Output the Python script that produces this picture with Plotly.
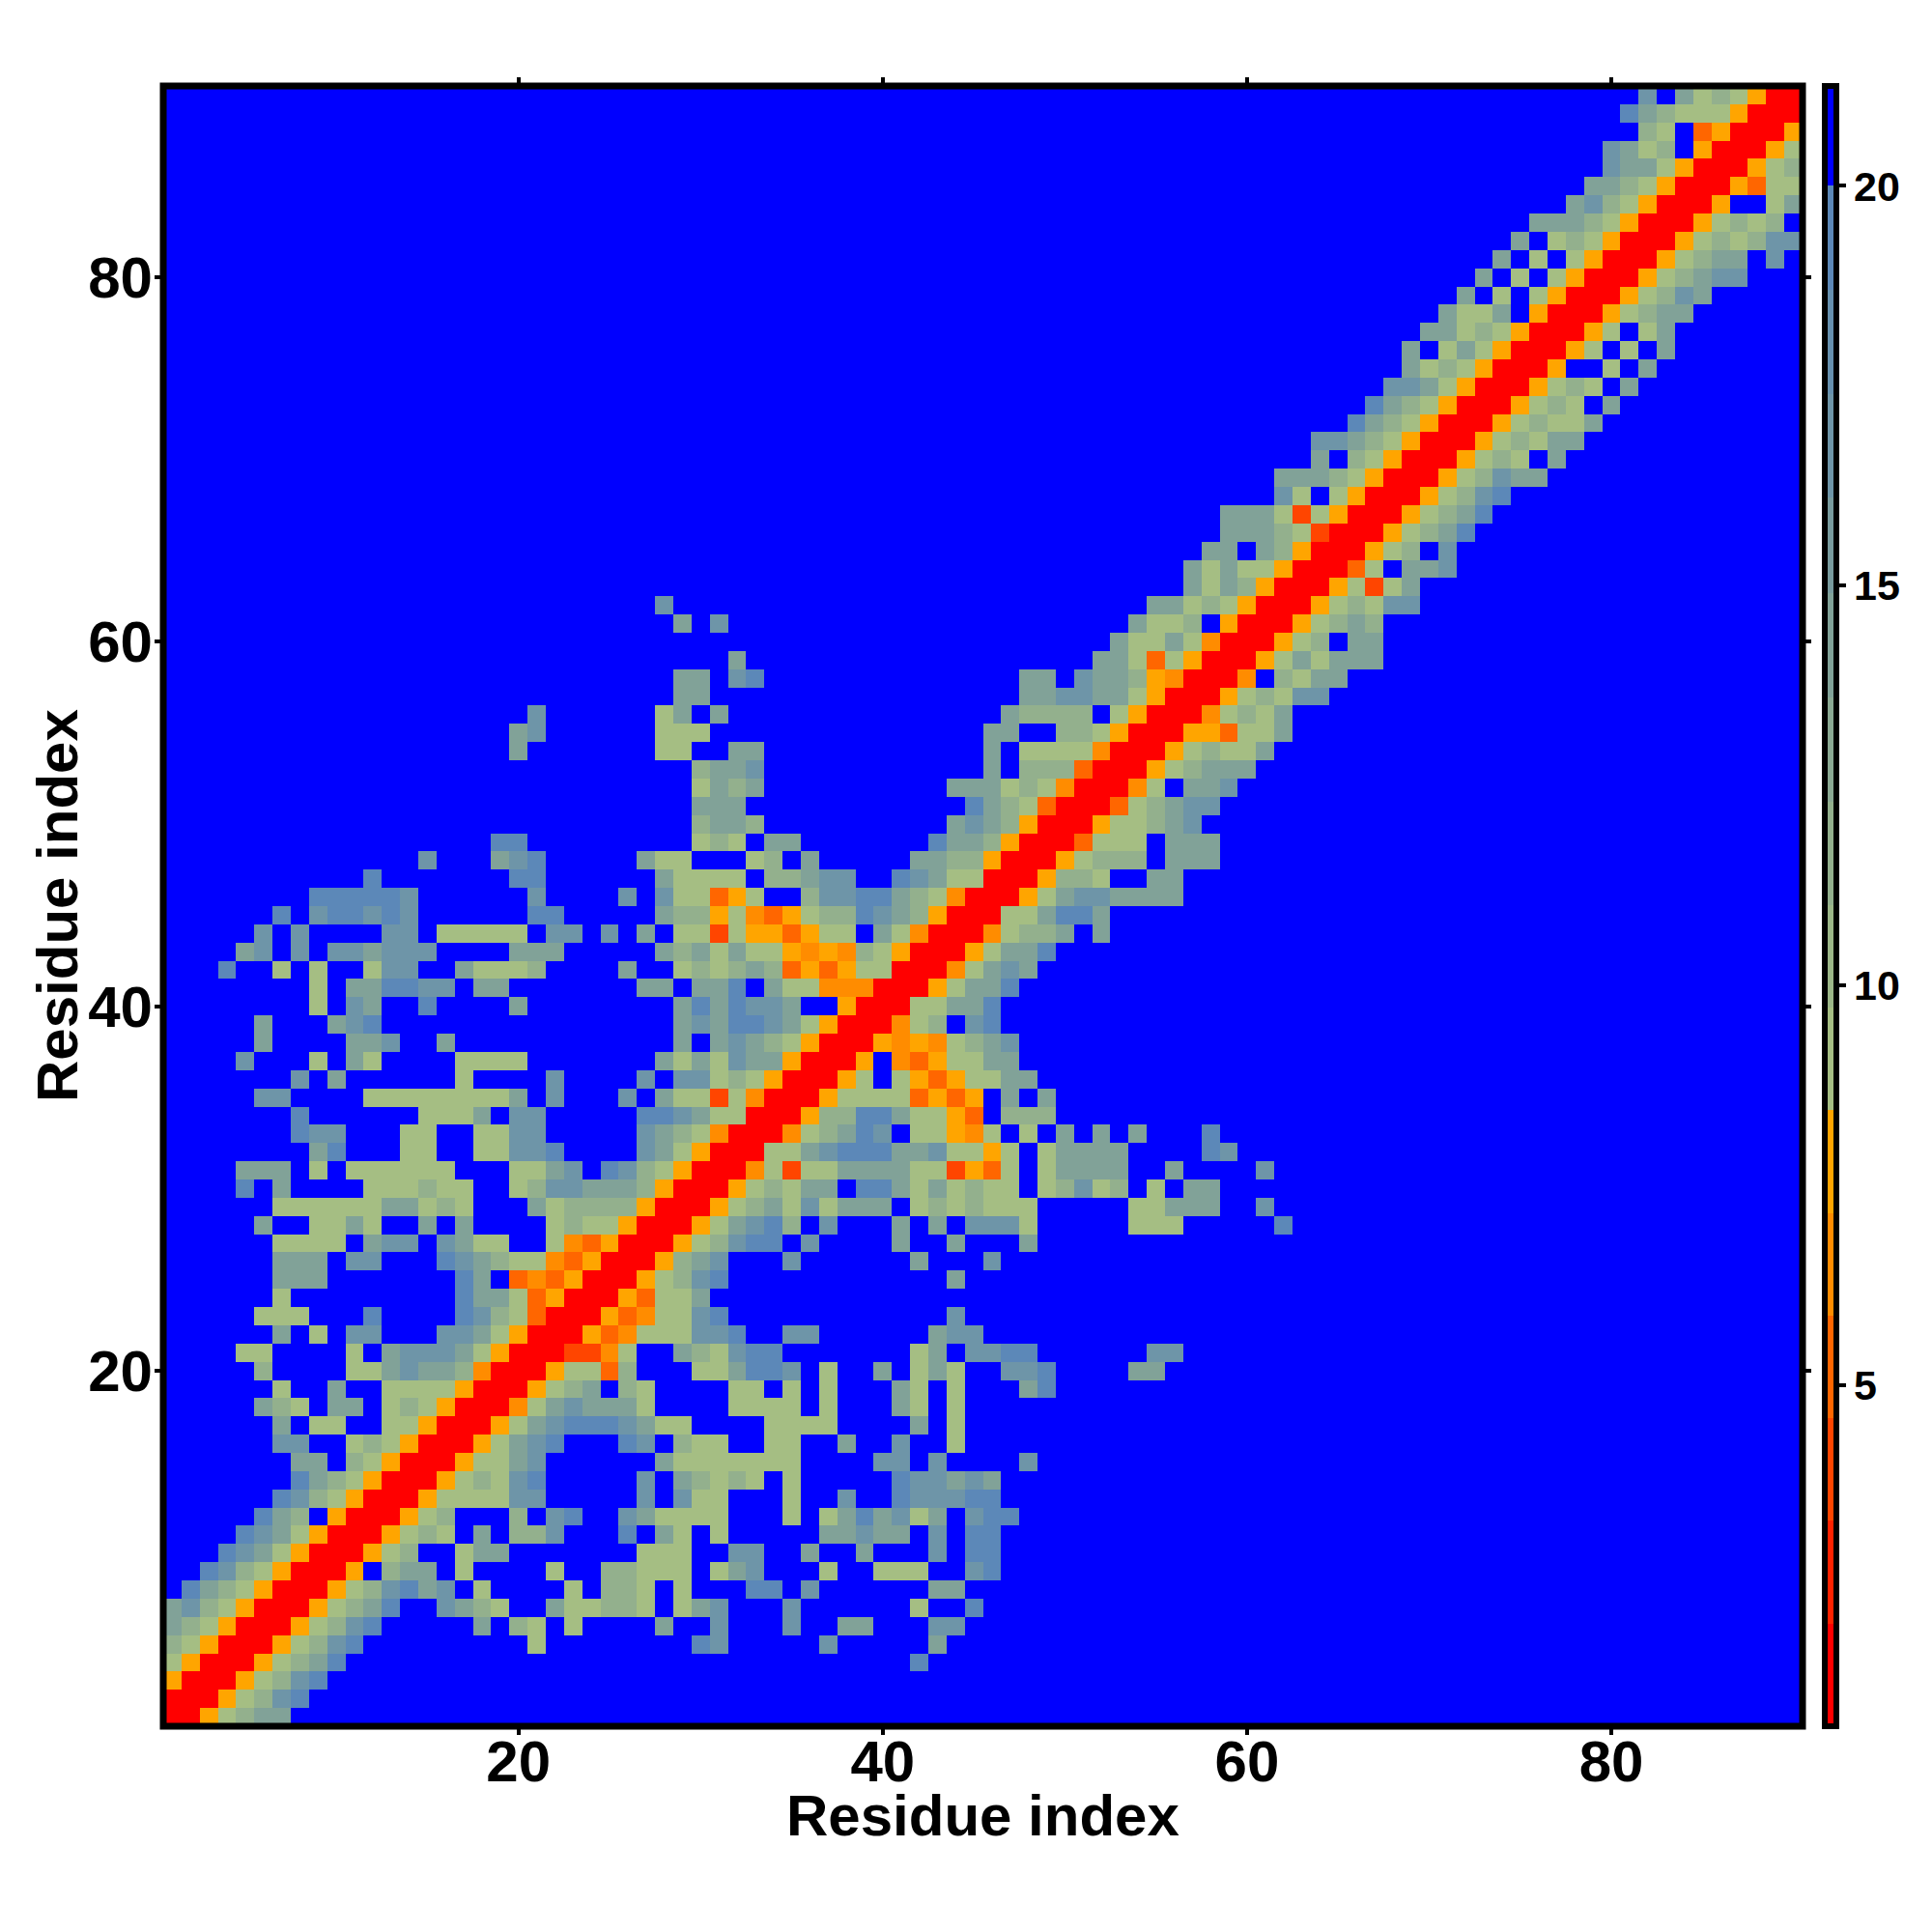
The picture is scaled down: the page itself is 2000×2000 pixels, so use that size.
import plotly.graph_objects as go

# Contact map. Each row is "first column:class letters".
ROW_CELLS = [
"1:RROedcc",
"1:RRROedba",
"1:ORRROedba",
"1:eORRROedca 42:a",
"1:deORRROedba 21:e 30:ab 37:b 43:c",
"1:cdeORRROedba 18:c 20:de 23:e 28:c 31:b 35:b 38:cc 43:bb",
"1:cbdeORRROedca 16:bcde 22:ceedde 29:ecb 35:b 42:e 45:a",
"2:acdeORRROedbacb 18:e 23:e 25:dde 29:e 33:aa 36:b 43:cc",
"3:abdeORRRO 13:dcc 17:e 22:e 25:ddeee 31:ecb 37:e 40:eee 45:ba",
"4:abceORRROed 17:ecc 27:eee 32:bb 36:c 39:c 43:b 45:aa",
"5:abceORRROede 18:c 20:ddb 26:a 28:ce 31:e 37:ccbcc 43:b 45:aa",
"6:acd 10:ORRROed 20:d 22:ba 26:bceeee 35:e 37:ecacbec 45:baa",
"7:abdeORRROeeeebb 27:b 29:bee 35:e 38:b 41:abbbaa",
"8:acdeORRROedeba 27:b 29:cdede 35:e 41:abbcbc",
"8:cc 11:deORRROeecb 28:ceeeeeee 40:bb 43:b 48:b",
"7:bb 11:edeORRROecba 26:ab 29:dee 34:ee 38:c 41:b 44:e",
"7:c 9:ee 13:eeORRROecbaaabcee 34:eeee 42:c 44:e",
"6:cde 10:cc 13:edeORRRDecbccce 32:eeee 37:e 41:ce 44:e",
"7:e 10:c 13:eeeeORRROedc 26:de 32:ee 35:e 37:e 41:ce 44:e 48:ca",
"6:d 11:eecbccdDRRROeeEd 30:eecaab 37:e 40:c 42:ece 47:bba 54:cc",
"5:ee 11:e 13:cbbbceORRRFFDe 29:cdebaa 42:ec 45:bbaa 55:bb",
"7:c 9:e 11:bb 16:bbceORRROEDeee 30:bba 35:bb 43:cbb",
"6:eee 12:a 17:abdeERRROEDeeba 44:b",
"7:e 17:acceEORRROEeec",
"7:ccc 17:ac 20:EDEORRROedba 44:c",
"7:ccc 11:bb 16:abcdeeDEORRROdcb 35:b 42:c 46:b",
"7:eeee 12:cbb 16:bcee 22:eDEORRROedbaa 36:b 41:c 44:c 48:c",
"6:c 9:eece 15:c 17:c 22:edeeORRROecbad 37:b 41:c 43:c 45:bbbe 54:eee 62:a",
"7:eeeeee 13:cc 15:ede 21:ceddddORRROedcebeccc 42:edede 47:ee 54:eeccc 61:b",
"5:a 7:c 12:eeedee 20:edbbcccdORRROedecc 39:aacecedee 49:edbed 55:e 57:cc",
"5:ccc 9:e 11:eeeeee 20:eecb 25:abdeORRRDeFeecccceeFOEe 49:ecccc 56:c 61:b",
"9:ca 14:ee 18:eebba 27:bceORRReecbaaaccbeeOe 49:ecccc 58:ab",
"8:abb 14:ee 18:eebb 27:bcdeDRRRDedcab 42:eeODe 48:e 50:c 52:c 54:c 58:a",
"8:a 15:eeec 20:bb 27:aabceeRRROddaaceeOE 47:ddd",
"6:bb 12:eeeeeeeec 22:b 26:b 28:ceeFeDRRROeeeeEOEO 47:c 49:c",
"8:b 10:c 17:e 22:b 27:b 29:bbedeORRROe 41:eOEOeecc",
"5:b 9:e 11:ce 17:eeee 28:cecebccORRRO 41:DEOeecc",
"6:c 11:ccb 16:c 29:c 31:cbcdeORRRODODedcb",
"6:c 10:cba 29:cbcaabceORRRDed 45:ba",
"9:e 11:bc 15:a 20:c 29:cacabbc 38:ORRReecca",
"9:e 11:ccaabb 18:cc 27:cc 30:cca 34:ceeDDDRRROecca",
"4:a 7:e 9:e 12:ebb 17:ceeed 26:c 29:ededcdEOEOeeRRRDecbc",
"5:cb 8:b 10:bbcbbb 20:ccc 28:cdceceeODODdeORRROecca",
"6:b 8:b 13:bb 16:eeeee 22:bb 25:b 27:c 29:eeFeOOEOee 40:ceDRRRDeddc 52:c",
"7:a 9:baabab 21:aa 28:cddOeDEOeddabcdORRReecaac",
"9:aaaaab 21:b 26:b 28:beeEOe 36:dbbaacdeDRRROecbbcccc",
"12:a 20:aa 28:ceeee 34:ddcbb 41:abceeRRROdde 55:cc",
"15:b 19:cba 27:cee 33:ed 36:c 42:ccddORRROeddd 56:ccc",
"19:aa 30:ede 34:cc 43:accdORRREeee 56:ccc",
"30:dccd 44:cbcdORRROeedcb",
"30:ccc 45:acdeERRREedcbb",
"30:ecdc 44:cccedeDRRRDe 57:ccb",
"30:dccb 46:c 48:dddERRROedccc",
"20:c 28:ee 32:cc 46:c 48:eeeeDRRROedeec",
"20:cb 28:eee 46:cc 50:ddeORRROOEeec",
"21:b 28:ec 31:c 47:cdddd 53:eORRRDedec",
"29:cc 48:ccbbcceORRROedebb",
"29:cc 32:ba 48:cc 51:bccdODRRRD 62:decc",
"32:c 52:cceEeORRROececcc",
"53:ceeceDRRROed 66:cc",
"29:c 31:b 54:ceed 59:ORRROedcd",
"28:b 55:ccedeORRROedebb",
"57:cecdORRROeFec",
"57:ceceeORRREe 69:ccb",
"58:cc 61:cdORRROed 71:b",
"59:cccdeFRRROedca",
"59:ccceFeORRROedca",
"62:be 65:eORRROedba",
"62:cccdeORRROedbcc",
"64:c 66:deORRROede 77:c",
"64:bbcdeORRROedecc",
"66:acdeORRROedeec",
"67:acdeORRROede 80:c",
"68:bbceORRROede 81:c",
"69:cedeORRRO 80:e 82:c",
"69:c 71:eceORRROe 81:e 83:c",
"70:ccedeORRROe 82:ec",
"71:ceec 76:ORRROedcc",
"72:c 74:e 76:eORRROedbc",
"73:c 75:e 77:eORRROedcbb",
"74:c 76:e 78:eORRROedcc 89:b",
"75:c 77:edeORRROededbb",
"76:cccdeORRROeded",
"78:cbdeORRRO 89:ec",
"79:ccdeORRROEee",
"80:bcceORRROed",
"80:bced 85:ORRROe",
"82:de 85:EORRRO",
"81:acdeeeORRR",
"82:b 84:cedeORR",
]

# Distance value for each class letter, read against the colour bar.
CLASS_VALUES = {"R": 1.4, "F": 4.0, "E": 5.2, "D": 6.5, "O": 7.8,
                "e": 9.1, "d": 11.7, "c": 14.2, "b": 16.8, "a": 19.3, ".": 20.6}
BACKGROUND = CLASS_VALUES["."]

RESIDUES = list(range(1, 91))
AXIS_TICKS = [20, 40, 60, 80]
BAR_TICKS = [5, 10, 15, 20]
BAND_EDGES = [0.73, 2.01, 3.3, 4.58, 5.87, 7.15, 8.44, 9.72, 11.0, 12.3, 13.6,
              14.9, 16.1, 17.4, 18.7, 20.0, 21.25]
BAND_COLORS = ["#FF0000", "#FF2200", "#FF4500", "#FF6600", "#FF8C00", "#FFA500",
               "#A5BE83", "#9CB788", "#93B08D", "#8AA993", "#81A298", "#789B9E",
               "#6E95A8", "#6690AE", "#5C88B8", "#0000FF"]
AXIS_TITLE = "Residue index"

z = [[BACKGROUND for _ in RESIDUES] for _ in RESIDUES]
for row_index, row in enumerate(ROW_CELLS):
    for token in row.split():
        first, cells = token.split(":")
        for offset, letter in enumerate(cells):
            z[row_index][int(first) - 1 + offset] = CLASS_VALUES[letter]

low, high = BAND_EDGES[0], BAND_EDGES[-1]
colorscale = []
for i, color in enumerate(BAND_COLORS):
    colorscale.append([(BAND_EDGES[i] - low) / (high - low), color])
    colorscale.append([(BAND_EDGES[i + 1] - low) / (high - low), color])

FONT = "Liberation Sans"
tick_font = dict(family=FONT, size=60, color="black", weight="bold")
title_font = dict(family=FONT, size=60, color="black", weight="bold")

fig = go.Figure(go.Heatmap(
    x=RESIDUES, y=RESIDUES, z=z, zmin=low, zmax=high, zsmooth=False,
    colorscale=colorscale, hoverinfo="skip",
    colorbar=dict(
        x=1.0135, xanchor="left", xpad=0, ypad=0, y=0, yanchor="bottom",
        len=1, lenmode="fraction", thickness=12,
        outlinewidth=6, outlinecolor="black", borderwidth=0,
        tickmode="array", tickvals=BAR_TICKS, ticks="outside",
        ticklen=7, tickwidth=4, tickcolor="black",
        tickfont=dict(family=FONT, size=43, color="black", weight="bold"),
    ),
))

axis = dict(range=[0.5, 90.5], tickmode="array", tickvals=AXIS_TICKS,
            ticks="outside", ticklen=8, tickwidth=4, tickcolor="black",
            mirror="ticks", showgrid=False, zeroline=False, showline=False,
            tickfont=tick_font, automargin=False)

fig.update_layout(
    width=2000, height=2000, autosize=False,
    paper_bgcolor="white", plot_bgcolor="#0000FF",
    margin=dict(l=161, r=142, t=81, b=221, pad=0),
    xaxis=dict(axis, ticklabelstandoff=-24),
    yaxis=dict(axis, ticklabelstandoff=-10),
    annotations=[
        dict(text=AXIS_TITLE, font=title_font, showarrow=False,
             xref="paper", yref="paper", x=0.5, y=0,
             xanchor="center", yanchor="middle", yshift=-92),
        dict(text=AXIS_TITLE, font=title_font, showarrow=False, textangle=-90,
             xref="paper", yref="paper", x=0, y=0.5,
             xanchor="center", yanchor="middle", xshift=-110),
    ],
    shapes=[dict(type="rect", xref="paper", yref="paper", x0=0, x1=1, y0=0, y1=1,
                 line=dict(color="black", width=7), fillcolor="rgba(0,0,0,0)",
                 layer="above")],
)

fig.write_html("out.html")
